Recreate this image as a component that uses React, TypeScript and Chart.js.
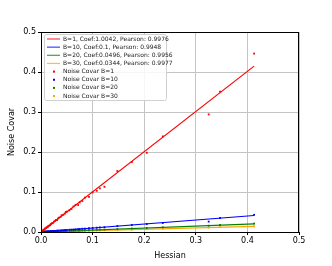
import React, { useEffect, useRef } from 'react';
import { Chart, registerables } from 'chart.js';
Chart.register(...registerables);

// Hessian values (shared x for all batch sizes)
const hessian = [0.002, 0.004, 0.005, 0.007, 0.008, 0.010, 0.011, 0.013, 0.014, 0.016, 0.018, 0.019, 0.021, 0.023, 0.025, 0.027, 0.029, 0.031, 0.033, 0.035, 0.038, 0.040, 0.043, 0.046, 0.048, 0.050, 0.055, 0.059, 0.063, 0.067, 0.072, 0.075, 0.080, 0.085, 0.093, 0.100, 0.108, 0.114, 0.123, 0.148, 0.176, 0.205, 0.236, 0.325, 0.347, 0.413];
const covarB1 = [0.003, 0.004, 0.006, 0.006, 0.009, 0.010, 0.012, 0.012, 0.015, 0.016, 0.017, 0.020, 0.022, 0.022, 0.026, 0.027, 0.030, 0.030, 0.034, 0.036, 0.038, 0.042, 0.043, 0.046, 0.050, 0.051, 0.054, 0.0575, 0.064, 0.068, 0.0675, 0.074, 0.0775, 0.086, 0.088, 0.099, 0.103, 0.109, 0.113, 0.1525, 0.175, 0.198, 0.239, 0.294, 0.351, 0.446];
const covarB10 = [0.0002, 0.0004, 0.0005, 0.0008, 0.0008, 0.0010, 0.0011, 0.0013, 0.0015, 0.0016, 0.0018, 0.0019, 0.0021, 0.0024, 0.0025, 0.0027, 0.0030, 0.0031, 0.0033, 0.0035, 0.0039, 0.0040, 0.0043, 0.0046, 0.0047, 0.0050, 0.0056, 0.0059, 0.0062, 0.0068, 0.0072, 0.0074, 0.0081, 0.0084, 0.0094, 0.0100, 0.0107, 0.0115, 0.0120, 0.0150, 0.0175, 0.0200, 0.0225, 0.0260, 0.0350, 0.0430];
const covarB20 = [0.0001, 0.0002, 0.0003, 0.0003, 0.0004, 0.0005, 0.0006, 0.0006, 0.0007, 0.0008, 0.0009, 0.0010, 0.0010, 0.0011, 0.0012, 0.0014, 0.0014, 0.0015, 0.0017, 0.0017, 0.0019, 0.0020, 0.0021, 0.0023, 0.0024, 0.0025, 0.0027, 0.0030, 0.0031, 0.0033, 0.0036, 0.0037, 0.0040, 0.0042, 0.0046, 0.0050, 0.0053, 0.0057, 0.0061, 0.0073, 0.0088, 0.0101, 0.0118, 0.0158, 0.0175, 0.0210];
const covarB30 = [0.0001, 0.0001, 0.0002, 0.0002, 0.0003, 0.0003, 0.0004, 0.0004, 0.0005, 0.0006, 0.0006, 0.0007, 0.0007, 0.0008, 0.0009, 0.0009, 0.0010, 0.0011, 0.0011, 0.0012, 0.0013, 0.0014, 0.0015, 0.0016, 0.0016, 0.0017, 0.0019, 0.0020, 0.0022, 0.0023, 0.0025, 0.0026, 0.0027, 0.0029, 0.0032, 0.0034, 0.0037, 0.0039, 0.0042, 0.0051, 0.0060, 0.0070, 0.0081, 0.0111, 0.0120, 0.0142];
const batchSizes = [1, 10, 20, 30];
const coefs = [1.0042, 0.1, 0.0496, 0.0344];
const pearsons = [0.9976, 0.9948, 0.9956, 0.9977];
const axisTicks = [0, 0.1, 0.2, 0.3, 0.4, 0.5];

const seriesColors = ['#ff0000', '#0000ff', '#008000', '#ffa500'];
const FONT = '"DejaVu Sans", sans-serif';

export default function App() {
  const ref = useRef<HTMLCanvasElement | null>(null);
  useEffect(() => {
    document.body.style.margin = '0';
    const canvas = ref.current!;
    const covars = [covarB1, covarB10, covarB20, covarB30];
    const xmax = Math.max(...hessian);
    const lineLabels = batchSizes.map((b, i) => `B=${b}, Coef:${coefs[i]}, Pearson: ${pearsons[i]}`);
    const pointLabels = batchSizes.map((b) => `Noise Covar B=${b}`);

    const fitSets = coefs.map((c, i) => ({
      label: lineLabels[i],
      data: [{ x: 0, y: 0 }, { x: xmax, y: c * xmax }],
      showLine: true,
      borderColor: seriesColors[i],
      borderWidth: 1.2,
      pointRadius: 0,
      order: 10 + i,
    }));
    const scatterSets = covars.map((arr, i) => ({
      label: pointLabels[i],
      data: hessian.map((h, k) => ({ x: h, y: arr[k] })),
      showLine: false,
      backgroundColor: seriesColors[i],
      borderWidth: 0,
      pointRadius: 1.3,
      pointStyle: 'rect',
      order: i,
    }));

    const frame = {
      id: 'frame',
      afterDatasetsDraw(chart: any) {
        const { ctx, chartArea: a } = chart;
        ctx.save();
        ctx.strokeStyle = '#000';
        ctx.lineWidth = 1;
        ctx.strokeRect(a.left + 0.5, a.top + 0.5, a.right - a.left - 1, a.bottom - a.top);
        // legend
        const lx = a.left + 3, ly = a.top + 2, lw = 122, lh = 66;
        ctx.fillStyle = 'rgba(255,255,255,0.85)';
        ctx.strokeStyle = '#d0d0d0';
        ctx.beginPath();
        ctx.roundRect(lx + 0.5, ly + 0.5, lw, lh, 2);
        ctx.fill();
        ctx.stroke();
        ctx.font = `6px ${FONT}`;
        ctx.textBaseline = 'middle';
        const rowH = 8.15;
        for (let i = 0; i < 4; i++) {
          const y = ly + 5 + i * rowH;
          ctx.strokeStyle = seriesColors[i];
          ctx.globalAlpha = 0.75;
          ctx.lineWidth = 1.2;
          ctx.beginPath();
          ctx.moveTo(lx + 3, y);
          ctx.lineTo(lx + 16, y);
          ctx.stroke();
          ctx.globalAlpha = 1;
          ctx.fillStyle = '#222';
          ctx.fillText(lineLabels[i], lx + 19, y);
        }
        for (let i = 0; i < 4; i++) {
          const y = ly + 5 + (i + 4) * rowH;
          ctx.fillStyle = seriesColors[i];
          ctx.fillRect(lx + 9, y - 1, 2, 2);
          ctx.fillStyle = '#222';
          ctx.fillText(pointLabels[i], lx + 19, y);
        }
        ctx.restore();
      },
    };

    const tickFont = { family: FONT, size: 8 };
    const chart = new Chart(canvas, {
      type: 'scatter',
      data: { datasets: [...scatterSets, ...fitSets] as any },
      options: {
        animation: false,
        responsive: false,
        layout: { padding: { left: 0, right: 33, top: 32, bottom: 0 } },
        plugins: { legend: { display: false }, tooltip: { enabled: false } },
        scales: {
          x: {
            type: 'linear',
            min: axisTicks[0],
            max: axisTicks[axisTicks.length - 1],
            afterBuildTicks: (s: any) => { s.ticks = axisTicks.map((v) => ({ value: v })); },
            afterFit: (s: any) => { s.height = 34; },
            ticks: { font: tickFont, color: '#000', padding: 1, maxRotation: 0, callback: (v: any) => Number(v).toFixed(1) },
            grid: { color: '#c4c4c4', tickColor: '#000', tickLength: 3 },
            border: { color: '#000' },
            title: { display: true, text: 'Hessian', font: tickFont, color: '#000', padding: { top: 1, bottom: 5 } },
          },
          y: {
            type: 'linear',
            min: axisTicks[0],
            max: axisTicks[axisTicks.length - 1],
            afterBuildTicks: (s: any) => { s.ticks = axisTicks.map((v) => ({ value: v })); },
            afterFit: (s: any) => { s.width = 41; },
            ticks: { font: tickFont, color: '#000', padding: 2, callback: (v: any) => Number(v).toFixed(1) },
            grid: { color: '#c4c4c4', tickColor: '#000', tickLength: 3 },
            border: { color: '#000' },
            title: { display: true, text: 'Noise Covar', font: tickFont, color: '#000', padding: { top: 7, bottom: 0 } },
          },
        },
      },
      plugins: [frame],
    });
    return () => chart.destroy();
  }, []);
  return (
    <div style={{ width: 332, height: 266 }}>
      <canvas ref={ref} width={332} height={266} style={{ display: 'block' }} />
    </div>
  );
}
